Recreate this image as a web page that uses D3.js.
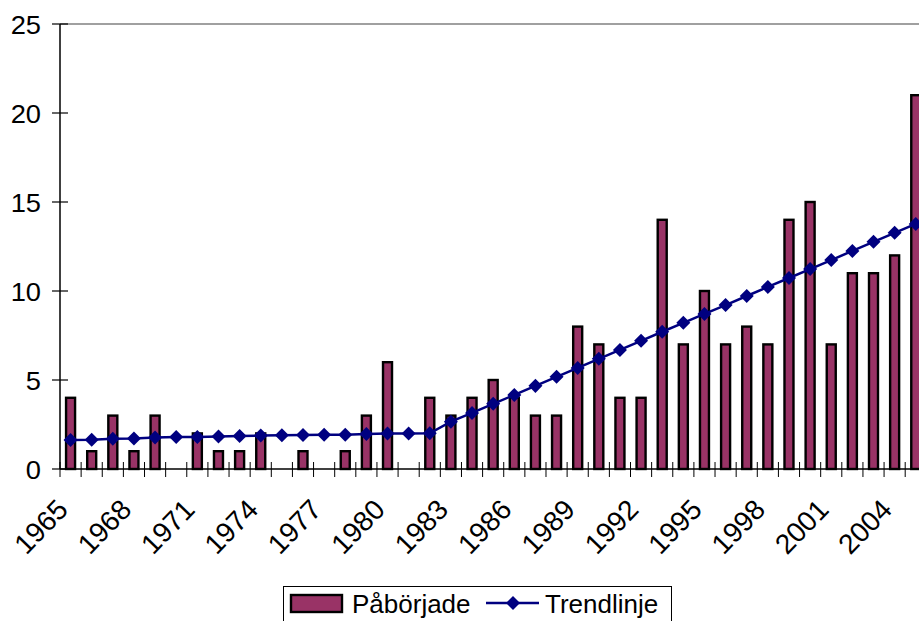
<!DOCTYPE html>
<html>
<head>
<meta charset="utf-8">
<script src="https://cdn.jsdelivr.net/npm/d3@7"></script>
<style>
  html, body { margin: 0; padding: 0; background: #fff; }
  svg { display: block; }
  text { font-family: "Liberation Sans", Arial, sans-serif; fill: #000; }
</style>
</head>
<body>
<svg id="chart" width="919" height="621"></svg>
<script>
const years = d3.range(1965, 2006);
const paborjade = [4,1,3,1,3,0,2,1,1,2,0,1,0,1,3,6,0,4,3,4,5,4,3,3,8,7,4,4,14,7,10,7,8,7,14,15,7,11,11,12,21];
const trend = [1.63,1.65,1.70,1.72,1.77,1.80,1.80,1.82,1.85,1.88,1.90,1.91,1.92,1.93,1.96,1.99,2.00,2.01,2.66,3.15,3.66,4.16,4.67,5.18,5.68,6.19,6.69,7.20,7.71,8.21,8.71,9.21,9.72,10.23,10.73,11.23,11.74,12.25,12.76,13.27,13.77];
const yTicks = [0,5,10,15,20,25];
const xLabelYears = d3.range(1965, 2006, 3);
const seriesNames = ["Påbörjade", "Trendlinje"];

(function () {
const svg = d3.select("#chart");
const mLeft = 60, mTop = 24, mBottom = 469;
const step = 21.13;
const x = d3.scaleBand().domain(years).range([mLeft, mLeft + step * years.length]).padding(0);
const y = d3.scaleLinear().domain([0, 25]).range([mBottom, mTop]);

const plum = "#993366", navy = "#000080";

// top border of plot area
svg.append("line").attr("x1", mLeft).attr("x2", 919).attr("y1", y(25)).attr("y2", y(25))
  .attr("stroke", "#808080").attr("stroke-width", 1.5);

// bars
svg.append("g").selectAll("rect").data(years.map((yr, i) => ({yr, v: paborjade[i]})).filter(d => d.v > 0))
  .join("rect")
  .attr("x", d => x(d.yr) + x.bandwidth() / 2 - 4.5)
  .attr("width", 9)
  .attr("y", d => y(d.v))
  .attr("height", d => y(0) - y(d.v))
  .attr("fill", plum).attr("stroke", "#000").attr("stroke-width", 2.4);

// y axis
const yAxis = svg.append("g");
yAxis.append("line").attr("x1", mLeft).attr("x2", mLeft).attr("y1", y(25)).attr("y2", y(0))
  .attr("stroke", "#000").attr("stroke-width", 1.5);
yAxis.selectAll("line.t").data(yTicks).join("line").attr("class", "t")
  .attr("x1", mLeft - 8).attr("x2", mLeft + 8).attr("y1", d => y(d)).attr("y2", d => y(d))
  .attr("stroke", "#000").attr("stroke-width", 1.2);
yAxis.selectAll("text").data(yTicks).join("text")
  .attr("transform", d => `translate(${mLeft - 19},${y(d) + 9.5}) scale(1.05,1)`)
  .attr("text-anchor", "end").style("font-size", "26px").text(d => d);

// x axis
const xAxis = svg.append("g");
xAxis.append("line").attr("x1", mLeft).attr("x2", 919).attr("y1", y(0)).attr("y2", y(0))
  .attr("stroke", "#000").attr("stroke-width", 1.5);
const bounds = years.map(yr => x(yr)).concat([x(2005) + x.bandwidth()]);
xAxis.selectAll("line.t").data(bounds).join("line").attr("class", "t")
  .attr("x1", d => d).attr("x2", d => d).attr("y1", y(0) - 7).attr("y2", y(0) + 8)
  .attr("stroke", "#000").attr("stroke-width", 1);
xAxis.selectAll("text").data(xLabelYears).join("text")
  .attr("transform", d => `translate(${x(d) + x.bandwidth() / 2 - 1},${y(0) + 42}) rotate(-46)`)
  .attr("text-anchor", "end").style("font-size", "28px").text(d => d);

// trend line
const line = d3.line().x((d, i) => x(years[i]) + x.bandwidth() / 2).y(d => y(d));
svg.append("path").datum(trend).attr("d", line).attr("fill", "none")
  .attr("stroke", navy).attr("stroke-width", 2.5);
const diamond = d3.symbol().type(d3.symbolDiamond2).size(125);
svg.append("g").selectAll("path").data(trend).join("path")
  .attr("d", diamond)
  .attr("transform", (d, i) => `translate(${x(years[i]) + x.bandwidth() / 2},${y(d)})`)
  .attr("fill", navy);

// legend
const lg = svg.append("g");
lg.append("rect").attr("x", 283.5).attr("y", 586.5).attr("width", 388).attr("height", 50)
  .attr("fill", "#fff").attr("stroke", "#000").attr("stroke-width", 1);
lg.append("rect").attr("x", 291).attr("y", 595).attr("width", 51).attr("height", 17)
  .attr("fill", plum).attr("stroke", "#000").attr("stroke-width", 2.4);
lg.append("text").attr("transform", `translate(352,613)`)
  .style("font-size", "26px").text(seriesNames[0]);
lg.append("line").attr("x1", 486).attr("x2", 539).attr("y1", 603).attr("y2", 603)
  .attr("stroke", navy).attr("stroke-width", 2.5);
lg.append("path").attr("d", diamond).attr("transform", "translate(513,603)").attr("fill", navy);
lg.append("text").attr("transform", `translate(545,613)`)
  .style("font-size", "26px").text(seriesNames[1]);
})();
</script>
</body>
</html>
